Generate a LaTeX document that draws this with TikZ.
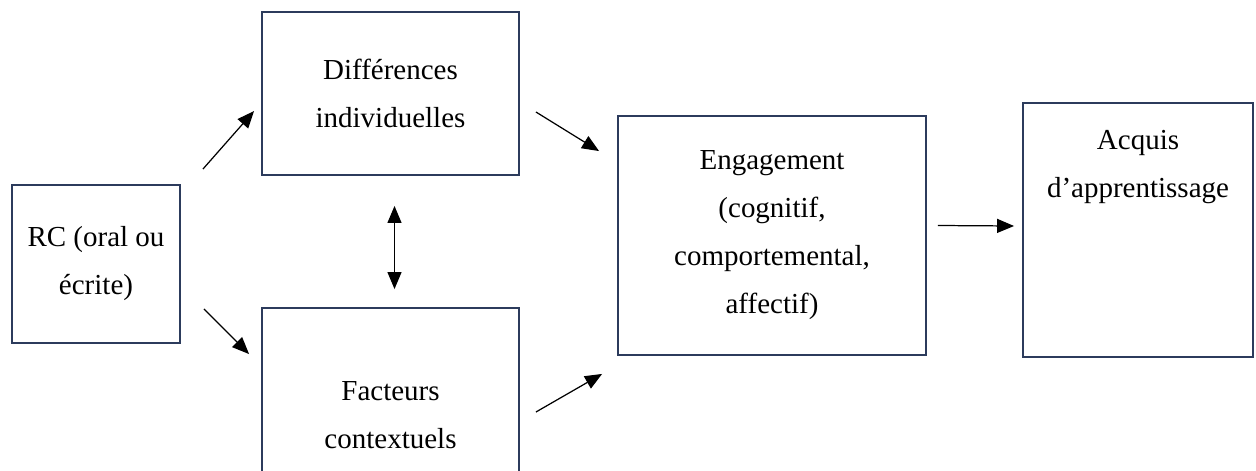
\documentclass[tikz,border=0pt]{standalone}
\usepackage{fontspec}
\setmainfont{Liberation Serif}
\usetikzlibrary{arrows.meta, positioning}
\definecolor{boxblue}{HTML}{2C3B5C}
\tikzset{%
	model box/.style={
		draw=boxblue,
		line width=1.1pt,
		align=center,
		font=\fontsize{16.5}{27.3}\selectfont
	},
	model arrow/.style={
		line width=0.7pt,
		>={Triangle[length=0.34cm, width=0.28cm]}
	},
}

\begin{document}
\begin{tikzpicture}[x=0.02cm, y=-0.02cm]
	\clip (0,0) rectangle (1256,470);
	
	% boxes
	\node[model box, minimum width=3.36cm, minimum height=3.16cm] (rc) at (96,264) {RC (oral ou\\écrite)};
	\node[model box, minimum width=5.14cm, minimum height=3.26cm] (diff) at (390.5,93.5) {Différences\\individuelles};
	\node[model box, minimum width=5.14cm, minimum height=4.28cm] (fact) at (390.5,415) {Facteurs\\contextuels};
	\node[model box, minimum width=6.16cm, minimum height=4.78cm] (eng) at (772,235.5) {Engagement\\(cognitif,\\comportemental,\\affectif)};
	\node[model box, minimum width=4.6cm, minimum height=5.08cm] (acq) at (1138,230) {Acquis\\d’apprentissage\\[1.7cm]\mbox{}};
	
	% arrows
	\draw[model arrow, ->] ([shift={(22,-15)}]rc.north east) -- ([shift={(-7,100)}]diff.north west);
	\draw[model arrow, ->] ([shift={(23,-35)}]rc.south east) -- ([shift={(-12,47)}]fact.north west);
	\draw[model arrow, <->] ([shift={(4,30)}]diff.south) -- ([shift={(4,-18)}]fact.north);
	\draw[model arrow, ->] ([shift={(16,18.5)}]diff.east) -- ([shift={(-18,36)}]eng.north west);
	\draw[model arrow, ->] ([shift={(16,-3)}]fact.east) -- ([shift={(-15,18)}]eng.south west);
	\draw[model arrow, ->] ([shift={(11,-10)}]eng.east) -- ([shift={(-8,-4)}]acq.west);
\end{tikzpicture}
\end{document}
